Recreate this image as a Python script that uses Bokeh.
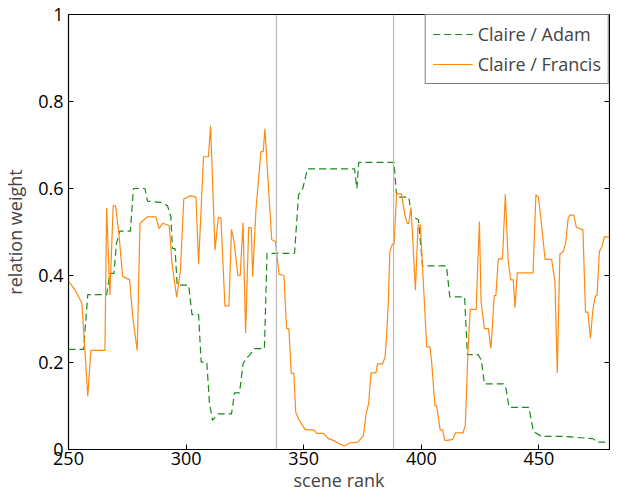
from bokeh.plotting import figure
from bokeh.models import Span, LinearAxis, Range1d, CustomJSTickFormatter, FixedTicker, Legend, LegendItem
from bokeh.embed import file_html
from bokeh.resources import INLINE

adam_x = [250,256.4,258.2,266.2,267.6,269.3,270.4,271.8,276.3,277.6,282.5,283.6,289.3,292.1,293.5,294.2,295.3,296.2,301.1,302.5,305.3,306.4,308.8,309.9,311.2,312.3,313.7,319.3,320.6,322.7,324.2,325.6,327,329.1,333.3,334.4,346.1,347.8,349.6,351.6,371.6,372.6,373.4,388.4,389.5,394.7,395.8,398.8,400.5,410.7,412.1,418.4,419.6,424.1,425.5,426.8,434.9,436,437.3,445.7,447.7,451.2,460.3,472.9,475,480]
adam_y = [0.23,0.23,0.356,0.356,0.405,0.405,0.474,0.502,0.502,0.60,0.60,0.571,0.568,0.56,0.535,0.462,0.462,0.378,0.378,0.31,0.31,0.201,0.201,0.109,0.067,0.074,0.082,0.082,0.13,0.13,0.197,0.21,0.217,0.232,0.232,0.451,0.451,0.585,0.60,0.645,0.645,0.60,0.66,0.66,0.58,0.58,0.537,0.528,0.422,0.422,0.351,0.351,0.218,0.218,0.206,0.151,0.151,0.14,0.097,0.097,0.041,0.03,0.03,0.025,0.017,0.017]

fran_x = [250,253,255.7,258.2,259.5,265.5,266.2,267.6,269,270,271.4,273,276,277.3,279.2,280.4,283.6,287.1,288.5,290,292.8,294,296,297.6,299,301.8,304.2,305.3,307.4,309.5,310.4,312.3,313.7,314.8,316.5,318.2,319.3,320.4,322,323,324.2,325.3,326.6,327.7,328.3,329.7,331.8,332.8,333.5,336.4,338,339.5,341.6,342.7,343.7,344.7,345.8,346.6,347.8,350.7,354.2,355.6,358.4,360.5,362.6,365.3,367.4,369.5,373,375.4,376.5,377.6,378.6,380.7,381.4,383.5,384.6,385.3,386,386.6,387.7,388.4,389.5,391.6,393,394,394.7,395.6,397.5,398.6,399.6,400.5,402.3,403.7,404.4,405.8,406.5,408,409,410,411.4,413.5,414.5,417.7,418.7,419.8,420.8,423.3,424.7,425.4,426.8,428.5,429.6,431,431.7,432.7,434.5,435.7,436.9,438,439.1,439.8,440.8,447.5,448.7,449.8,451.2,452.6,455.4,456.8,457.8,458.9,460.3,461.4,462.4,463.1,464.8,465.9,468.7,469.8,470.8,471.9,472.9,474,474.7,475.7,476.8,477.8,480]
fran_y = [0.387,0.365,0.336,0.122,0.228,0.228,0.555,0.355,0.56,0.56,0.498,0.398,0.39,0.305,0.228,0.52,0.535,0.535,0.508,0.52,0.515,0.428,0.35,0.412,0.576,0.583,0.58,0.426,0.673,0.673,0.744,0.458,0.534,0.532,0.33,0.33,0.506,0.478,0.40,0.40,0.521,0.267,0.51,0.51,0.397,0.551,0.685,0.685,0.737,0.482,0.478,0.403,0.40,0.278,0.278,0.175,0.175,0.086,0.07,0.045,0.045,0.037,0.037,0.025,0.021,0.013,0.008,0.015,0.017,0.032,0.082,0.105,0.176,0.176,0.197,0.197,0.212,0.267,0.343,0.455,0.472,0.472,0.589,0.587,0.539,0.52,0.52,0.557,0.366,0.516,0.516,0.42,0.236,0.236,0.20,0.101,0.101,0.045,0.045,0.021,0.021,0.024,0.038,0.038,0.055,0.22,0.322,0.322,0.524,0.34,0.278,0.278,0.232,0.354,0.354,0.438,0.438,0.587,0.435,0.39,0.39,0.326,0.406,0.406,0.585,0.58,0.512,0.437,0.437,0.385,0.176,0.449,0.455,0.476,0.531,0.539,0.539,0.511,0.505,0.316,0.316,0.256,0.32,0.353,0.353,0.455,0.466,0.489,0.489]

markers = [338.4, 388.2]
x_ticks = [250, 300, 350, 400, 450]
y_ticks = [0, 0.2, 0.4, 0.6, 0.8, 1]

FONT = "Open Sans"
p = figure(width=610, height=494, output_backend="svg", toolbar_location=None,
           x_range=Range1d(250, 480), y_range=Range1d(0, 1),
           min_border_left=67, min_border_right=1, min_border_top=14, min_border_bottom=45)
p.xgrid.visible = False
p.ygrid.visible = False
p.outline_line_color = "black"
p.outline_line_width = 1.2

for m in markers:
    p.add_layout(Span(location=m, dimension="height", line_color="#bbbbbb", line_width=1.2))

g = p.line(adam_x, adam_y, line_color="#1a8a1a", line_width=1.2, line_dash="7 4")
o = p.line(fran_x, fran_y, line_color="#ff8a10", line_width=1.2)

fmt = CustomJSTickFormatter(code="return String(Math.round(tick*10)/10);")
p.xaxis.ticker = FixedTicker(ticks=x_ticks)
p.yaxis.ticker = FixedTicker(ticks=y_ticks)
p.yaxis.formatter = fmt
for ax in (p.xaxis[0], p.yaxis[0]):
    ax.major_tick_in = 5
    ax.major_tick_out = 0
    ax.minor_tick_line_color = None
    ax.axis_line_color = None
    ax.major_label_text_font = FONT
    ax.major_label_text_font_size = "18px"
    ax.major_label_text_color = "black"
    ax.axis_label_text_font = FONT
    ax.axis_label_text_font_size = "18px"
    ax.axis_label_text_font_style = "normal"
    ax.major_tick_line_color = "black"
p.xaxis.axis_label = "scene rank"
p.yaxis.axis_label = "relation weight"
p.xaxis.axis_label_standoff = 0
p.yaxis.axis_label_standoff = 8
p.xaxis.major_label_standoff = 2

ra = LinearAxis(ticker=FixedTicker(ticks=y_ticks), formatter=CustomJSTickFormatter(code='return "";'),
                major_tick_in=5, major_tick_out=0, minor_tick_line_color=None, axis_line_color=None,
                major_label_standoff=0)
p.add_layout(ra, "right")

leg = Legend(items=[LegendItem(label="Claire / Adam", renderers=[g]),
                    LegendItem(label="Claire / Francis", renderers=[o])],
             location="top_right", margin=0, padding=7, spacing=6,
             border_line_color="black", label_text_font=FONT, label_text_font_size="18px",
             glyph_width=40)
p.add_layout(leg)

open("out.html", "w").write(file_html(p, INLINE))
